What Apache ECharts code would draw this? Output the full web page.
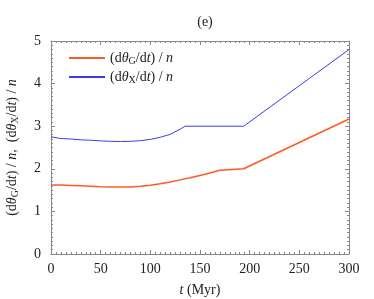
<!DOCTYPE html>
<html><head><meta charset="utf-8">
<script src="https://cdn.jsdelivr.net/npm/echarts@6/dist/echarts.min.js"></script>
<style>html,body{margin:0;padding:0;background:#fff}#c{width:374px;height:299px}</style>
</head><body><div id="c"></div>
<script>
const tG = [0,10,20,30,40,50,60,70,80,90,100,110,120,130,140,150,160,170,172,194,300];
const vG = [1.62,1.62,1.61,1.60,1.59,1.58,1.575,1.57,1.575,1.59,1.615,1.65,1.69,1.74,1.79,1.845,1.90,1.965,2.0,2.0,3.17];
const tX = [0,2,10,20,30,40,50,60,70,80,90,100,110,120,130,135,194,300];
const vX = [2.75,2.72,2.71,2.70,2.68,2.67,2.655,2.645,2.64,2.645,2.66,2.69,2.74,2.81,2.93,3.0,3.0,4.8];
const xTicks = [0,50,100,150,200,250,300];
const yTicks = [0,1,2,3,4,5];
const nameG = '(d{i|θ}{sub|G}/d{i|t}) / {i|n}';
const nameX = '(d{i|θ}{sub|X}/d{i|t}) / {i|n}';

const font = '"Liberation Serif","DejaVu Serif",serif';
const rich = {
  i:{fontStyle:'italic',fontFamily:font,fontSize:14,color:'#222'},
  sub:{fontFamily:font,fontSize:10,color:'#222',verticalAlign:'bottom',padding:[6,0,0,0]}
};
const axisCol = '#888';
const chart = echarts.init(document.getElementById('c'));
function xa(show,pos){return {type:'value',min:0,max:300,interval:50,position:pos,
  axisLine:{show:true,onZero:false,lineStyle:{color:axisCol,width:1}},
  axisTick:{show:true,inside:true,length:4,lineStyle:{color:axisCol}},
  minorTick:{show:true,splitNumber:10,length:2,lineStyle:{color:axisCol}},
  splitLine:{show:false},
  axisLabel:{show:show,fontFamily:font,fontSize:14,color:'#222',margin:8},
  name: show?'{i|t} (Myr)':'', nameLocation:'middle', nameGap:29,
  nameTextStyle:{fontFamily:font,fontSize:14,color:'#222',rich:rich}};}
function ya(show,pos){return {type:'value',min:0,max:5,interval:1,position:pos,
  axisLine:{show:true,onZero:false,lineStyle:{color:axisCol,width:1}},
  axisTick:{show:true,inside:true,length:4,lineStyle:{color:axisCol}},
  minorTick:{show:true,splitNumber:10,length:2,lineStyle:{color:axisCol}},
  splitLine:{show:false},
  axisLabel:{show:show,fontFamily:font,fontSize:14,color:'#222',margin:10},
  name: show?(nameG+',  '+nameX):'', nameLocation:'middle', nameGap:31, nameRotate:90,
  nameTextStyle:{fontFamily:font,fontSize:14,color:'#222',rich:rich}};}
chart.setOption({
  animation:false,
  title:{text:'(e)',left:200,top:10,textAlign:'center',textStyle:{fontFamily:font,fontSize:14,fontWeight:'normal',color:'#222'}},
  grid:{left:51,right:25,top:41,bottom:45,containLabel:false,outerBoundsMode:'none'},
  legend:{orient:'vertical',left:64,top:46,itemWidth:36,itemHeight:2,itemGap:4,
    icon:'rect',
    data:[{name:nameG},{name:nameX}],
    textStyle:{fontFamily:font,fontSize:14,color:'#222',rich:rich}},
  xAxis:[xa(true,'bottom'),xa(false,'top')],
  yAxis:[ya(true,'left'),ya(false,'right')],
  series:[
    {name:nameG,type:'line',showSymbol:false,smooth:false,data:tG.map((t,i)=>[t,vG[i]]),lineStyle:{color:'#ff5a24',width:1.5},itemStyle:{color:'#ff5a24'}},
    {name:nameX,type:'line',showSymbol:false,smooth:false,data:tX.map((t,i)=>[t,vX[i]]),lineStyle:{color:'#3c3ce6',width:1},itemStyle:{color:'#3c3ce6'}}
  ]
});
</script></body></html>
